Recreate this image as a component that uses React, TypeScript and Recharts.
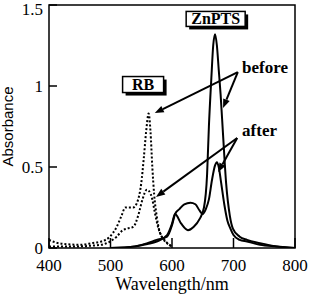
import {
  ComposedChart,
  Line,
  XAxis,
  YAxis,
  ReferenceArea,
  ReferenceLine,
  ReferenceDot,
} from "recharts";

const xTicks = [400, 500, 600, 700, 800];
const yTicks = [0, 0.5, 1, 1.5];

// rose bengal, dotted
const rbBeforeNm = [400, 410, 425, 450, 470, 485, 499, 510, 518, 524, 530, 537, 545, 550, 554, 558, 562, 565, 568, 571, 575, 580, 590, 600];
const rbBeforeAbs = [0.05, 0.035, 0.025, 0.02, 0.03, 0.04, 0.07, 0.13, 0.2, 0.25, 0.25, 0.25, 0.3, 0.4, 0.55, 0.72, 0.83, 0.72, 0.5, 0.33, 0.2, 0.1, 0.04, 0.01];
const rbAfterNm = [400, 420, 450, 470, 485, 499, 510, 520, 527, 537, 545, 552, 559, 563, 568, 572, 578, 585, 595, 600];
const rbAfterAbs = [0.01, 0.01, 0.01, 0.015, 0.02, 0.04, 0.07, 0.11, 0.12, 0.13, 0.2, 0.3, 0.36, 0.35, 0.3, 0.22, 0.12, 0.06, 0.02, 0.01];

// ZnPTS, solid
const znBeforeNm = [500, 540, 560, 575, 592, 600, 605, 615, 626, 635, 645, 652, 657, 660, 664, 667, 670, 673, 676, 679, 683, 688, 694, 699, 710, 722, 743, 770, 800];
const znBeforeAbs = [0, 0.01, 0.025, 0.04, 0.08, 0.15, 0.21, 0.15, 0.11, 0.13, 0.18, 0.25, 0.45, 0.75, 1.05, 1.25, 1.32, 1.25, 1.1, 0.95, 0.7, 0.4, 0.2, 0.12, 0.07, 0.05, 0.03, 0.01, 0];
const znAfterNm = [500, 540, 560, 575, 592, 600, 605, 612, 620, 630, 638, 645, 650, 655, 660, 665, 670, 673, 676, 680, 685, 690, 695, 700, 710, 722, 743, 770, 800];
const znAfterAbs = [0, 0.01, 0.03, 0.05, 0.07, 0.14, 0.21, 0.24, 0.27, 0.28, 0.27, 0.23, 0.21, 0.24, 0.3, 0.42, 0.51, 0.53, 0.5, 0.4, 0.27, 0.17, 0.12, 0.08, 0.05, 0.04, 0.02, 0.01, 0];

const toRows = (nm: number[], abs: number[]) => nm.map((x, i) => ({ nm: x, a: abs[i] }));

const serif = "'Liberation Serif', 'Times New Roman', serif";

const BoxLabel = ({ cx, cy, w, h, text }: any) => (
  <g>
    <rect x={cx - w / 2 + 3} y={cy - h / 2 + 3} width={w} height={h} fill="#000" />
    <rect x={cx - w / 2} y={cy - h / 2} width={w} height={h} fill="#fff" stroke="#000" strokeWidth={1.5} />
    <text x={cx} y={cy + 5} textAnchor="middle" fontFamily={serif} fontWeight="bold" fontSize={16}>
      {text}
    </text>
  </g>
);

const Word = ({ cx, cy, text }: any) => (
  <text x={cx} y={cy} fontFamily={serif} fontWeight="bold" fontSize={17}>
    {text}
  </text>
);

const Arrow = ({ x1, y1, x2, y2 }: any) => {
  const ang = Math.atan2(y2 - y1, x2 - x1);
  const len = 9;
  const half = 3.5;
  const bx = x2 - len * Math.cos(ang);
  const by = y2 - len * Math.sin(ang);
  const px = -Math.sin(ang) * half;
  const py = Math.cos(ang) * half;
  return (
    <g>
      <line x1={x1} y1={y1} x2={bx} y2={by} stroke="#000" strokeWidth={2} />
      <polygon points={`${x2},${y2} ${bx + px},${by + py} ${bx - px},${by - py}`} fill="#000" />
    </g>
  );
};

const XTick = ({ x, y, payload }: any) => (
  <text x={x} y={y} dy={11} textAnchor="middle" fontFamily={serif} fontSize={17} fill="#000">
    {payload.value}
  </text>
);

const YTick = ({ x, y, payload }: any) => (
  <text x={x} y={y} dy={6} textAnchor="end" fontFamily={serif} fontSize={17} fill="#000">
    {String(payload.value)}
  </text>
);

const arrows = [
  [[707, 1.086], [572, 0.833]],
  [[707, 1.086], [683, 0.864]],
  [[706, 0.679], [574, 0.315]],
  [[706, 0.679], [675, 0.469]],
];

export default function App() {
  return (
    <div style={{ position: "absolute", left: 0, top: 0, background: "#fff" }}>
      <ComposedChart
        width={309}
        height={295}
        margin={{ top: 5, right: 14, bottom: 0, left: 0 }}
      >
        <XAxis
          type="number"
          dataKey="nm"
          domain={[400, 800]}
          ticks={xTicks}
          allowDataOverflow
          height={47}
          axisLine={false}
          tickSize={-10}
          tickMargin={22}
          tickLine={{ stroke: "#000", strokeWidth: 1.5 }}
          tick={<XTick />}
          label={{
            content: ({ viewBox }: any) => (
              <text
                x={viewBox.x + viewBox.width / 2}
                y={viewBox.y + 42}
                textAnchor="middle"
                fontFamily={serif}
                fontSize={18}
              >
                Wavelength/nm
              </text>
            ),
          }}
        />
        <YAxis
          type="number"
          domain={[0, 1.5]}
          ticks={yTicks}
          allowDataOverflow
          width={49}
          axisLine={false}
          tickSize={-8}
          tickMargin={14}
          tickLine={{ stroke: "#000", strokeWidth: 1.5 }}
          tick={<YTick />}
          label={{
            content: ({ viewBox }: any) => {
              const x = viewBox.x + 13;
              const y = viewBox.y + viewBox.height / 2;
              return (
                <text
                  x={x}
                  y={y}
                  textAnchor="middle"
                  transform={`rotate(-90, ${x}, ${y})`}
                  fontFamily="'Liberation Sans', Arial, sans-serif"
                  fontSize={15}
                >
                  Absorbance
                </text>
              );
            },
          }}
        />
        <ReferenceArea x1={400} x2={800} y1={0} y2={1.5} fill="none" stroke="#000" strokeWidth={1.5} fillOpacity={0} />
        <Line
          data={toRows(rbBeforeNm, rbBeforeAbs)}
          dataKey="a"
          type="monotone"
          stroke="#000"
          strokeWidth={2}
          strokeDasharray="2 2"
          dot={false}
          isAnimationActive={false}
        />
        <Line
          data={toRows(rbAfterNm, rbAfterAbs)}
          dataKey="a"
          type="monotone"
          stroke="#000"
          strokeWidth={2}
          strokeDasharray="2 2"
          dot={false}
          isAnimationActive={false}
        />
        <Line
          data={toRows(znBeforeNm, znBeforeAbs)}
          dataKey="a"
          type="monotone"
          stroke="#000"
          strokeWidth={2}
          dot={false}
          isAnimationActive={false}
        />
        <Line
          data={toRows(znAfterNm, znAfterAbs)}
          dataKey="a"
          type="monotone"
          stroke="#000"
          strokeWidth={2}
          dot={false}
          isAnimationActive={false}
        />
        {arrows.map((s, i) => (
          <ReferenceLine
            key={i}
            segment={[{ x: s[0][0], y: s[0][1] }, { x: s[1][0], y: s[1][1] }]}
            shape={(p: any) => <Arrow {...p} />}
          />
        ))}
        <ReferenceDot x={671} y={1.414} r={0} shape={(p: any) => <BoxLabel cx={p.cx} cy={p.cy} w={59} h={15} text="ZnPTS" />} />
        <ReferenceDot x={553} y={1.009} r={0} shape={(p: any) => <BoxLabel cx={p.cx} cy={p.cy} w={41} h={16} text="RB" />} />
        <ReferenceDot x={714} y={1.08} r={0} shape={(p: any) => <Word cx={p.cx} cy={p.cy} text="before" />} />
        <ReferenceDot x={714} y={0.691} r={0} shape={(p: any) => <Word cx={p.cx} cy={p.cy} text="after" />} />
      </ComposedChart>
    </div>
  );
}
